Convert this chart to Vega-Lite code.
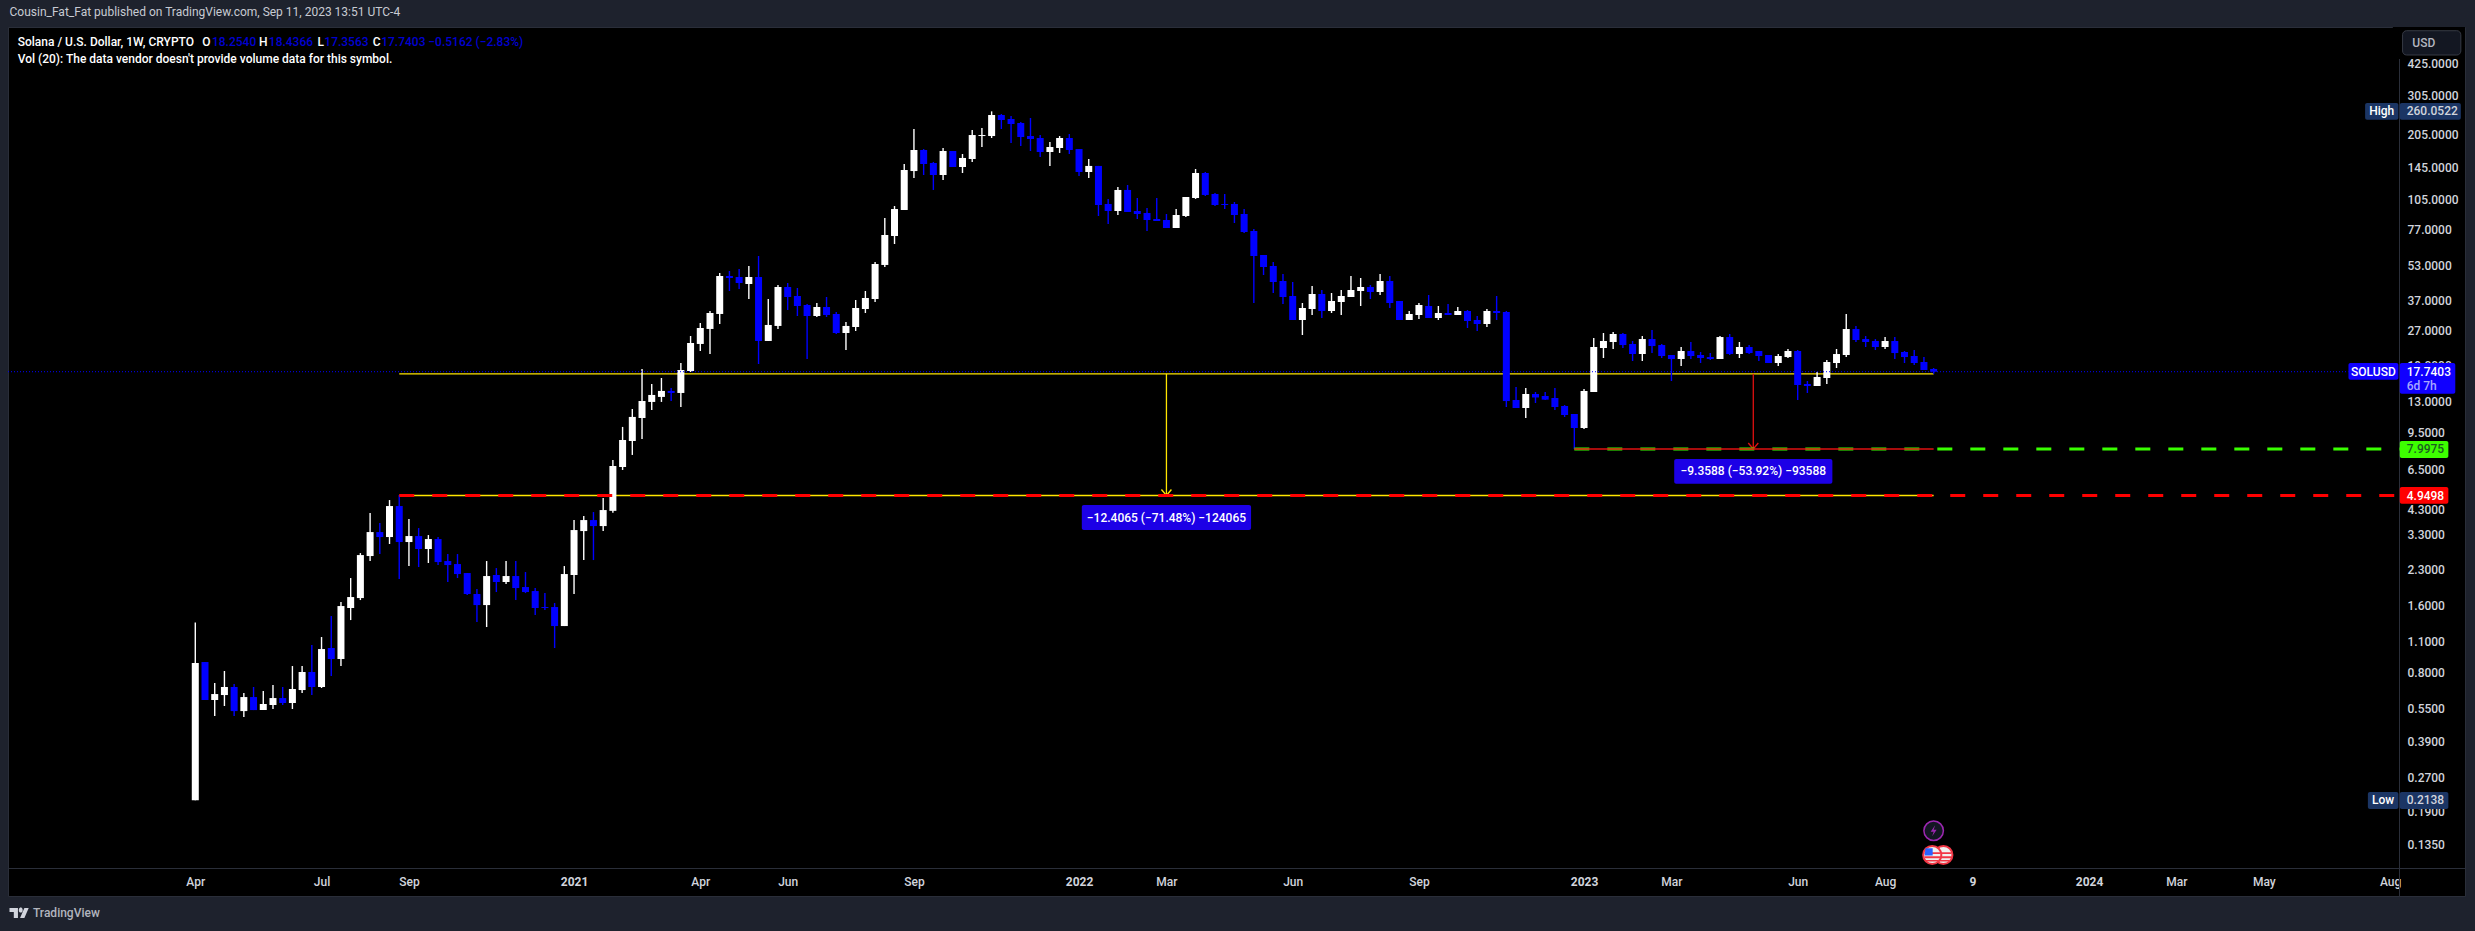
{
  "$schema": "https://vega.github.io/schema/vega-lite/v6.json",
  "description": "SOLUSD weekly candles on a log price scale with measured support levels.",
  "autosize": "none",
  "width": 2457,
  "height": 869,
  "padding": {"left": 8, "top": 27, "right": 10, "bottom": 35},
  "background": "#1e222d",
  "view": {"fill": "#000000", "stroke": "#2a2e39"},
  "title": {
    "text": "Cousin_Fat_Fat published on TradingView.com, Sep 11, 2023 13:51 UTC-4",
    "anchor": "start",
    "frame": "group",
    "dx": 1.5,
    "offset": 8,
    "font": "Roboto",
    "fontSize": 12,
    "fontWeight": "normal",
    "color": "#c8cbd3"
  },
  "config": {"text": {"font": "Roboto", "fontSize": 12}},
  "datasets": {
    "candles": [
      {"date":"2020-04-06","open":0.2138,"high":1.337,"low":0.2138,"close":0.8796},
      {"date":"2020-04-13","open":0.8887,"high":0.8887,"low":0.6007,"close":0.6007},
      {"date":"2020-04-20","open":0.6007,"high":0.7158,"low":0.509,"close":0.6388},
      {"date":"2020-04-27","open":0.6323,"high":0.81,"low":0.5646,"close":0.6869},
      {"date":"2020-05-04","open":0.6869,"high":0.7085,"low":0.509,"close":0.5359},
      {"date":"2020-05-11","open":0.5359,"high":0.6454,"low":0.5038,"close":0.6193},
      {"date":"2020-05-18","open":0.6193,"high":0.6869,"low":0.5415,"close":0.5415},
      {"date":"2020-05-25","open":0.5415,"high":0.6589,"low":0.5415,"close":0.5764},
      {"date":"2020-06-01","open":0.5705,"high":0.7012,"low":0.5474,"close":0.613},
      {"date":"2020-06-08","open":0.613,"high":0.6869,"low":0.5705,"close":0.5824},
      {"date":"2020-06-15","open":0.5824,"high":0.8528,"low":0.5474,"close":0.6728},
      {"date":"2020-06-22","open":0.6657,"high":0.8528,"low":0.6454,"close":0.8017},
      {"date":"2020-06-29","open":0.8017,"high":1.059,"low":0.6323,"close":0.6869},
      {"date":"2020-07-06","open":0.6869,"high":1.15,"low":0.6798,"close":1.016},
      {"date":"2020-07-13","open":1.027,"high":1.428,"low":0.7693,"close":0.9168},
      {"date":"2020-07-20","open":0.9168,"high":1.65,"low":0.8528,"close":1.583},
      {"date":"2020-07-27","open":1.551,"high":2.113,"low":1.37,"close":1.737},
      {"date":"2020-08-03","open":1.719,"high":2.734,"low":1.684,"close":2.678},
      {"date":"2020-08-10","open":2.651,"high":4.13,"low":2.518,"close":3.395},
      {"date":"2020-08-17","open":3.395,"high":3.725,"low":2.706,"close":3.225},
      {"date":"2020-08-24","open":3.225,"high":4.723,"low":3.001,"close":4.44},
      {"date":"2020-08-31","open":4.44,"high":4.972,"low":2.092,"close":3.063},
      {"date":"2020-09-07","open":3.063,"high":3.882,"low":2.391,"close":3.258},
      {"date":"2020-09-14","open":3.258,"high":3.538,"low":2.367,"close":2.85},
      {"date":"2020-09-21","open":2.85,"high":3.292,"low":2.467,"close":3.159},
      {"date":"2020-09-28","open":3.159,"high":3.225,"low":2.416,"close":2.492},
      {"date":"2020-10-05","open":2.518,"high":2.706,"low":2.028,"close":2.416},
      {"date":"2020-10-12","open":2.441,"high":2.706,"low":2.113,"close":2.202},
      {"date":"2020-10-19","open":2.225,"high":2.225,"low":1.773,"close":1.792},
      {"date":"2020-10-26","open":1.792,"high":1.887,"low":1.342,"close":1.599},
      {"date":"2020-11-02","open":1.599,"high":2.518,"low":1.275,"close":2.157},
      {"date":"2020-11-09","open":2.18,"high":2.342,"low":1.829,"close":2.028},
      {"date":"2020-11-16","open":2.028,"high":2.518,"low":1.986,"close":2.157},
      {"date":"2020-11-23","open":2.157,"high":2.518,"low":1.684,"close":1.906},
      {"date":"2020-11-30","open":1.926,"high":2.248,"low":1.81,"close":1.829},
      {"date":"2020-12-07","open":1.848,"high":1.906,"low":1.443,"close":1.551},
      {"date":"2020-12-14","open":1.567,"high":1.81,"low":1.519,"close":1.551},
      {"date":"2020-12-21","open":1.567,"high":1.633,"low":1.027,"close":1.288},
      {"date":"2020-12-28","open":1.288,"high":2.391,"low":1.288,"close":2.202},
      {"date":"2021-01-04","open":2.18,"high":3.842,"low":1.792,"close":3.466},
      {"date":"2021-01-11","open":3.43,"high":4.004,"low":2.544,"close":3.842},
      {"date":"2021-01-18","open":3.842,"high":4.173,"low":2.544,"close":3.611},
      {"date":"2021-01-25","open":3.611,"high":4.82,"low":3.43,"close":4.26},
      {"date":"2021-02-01","open":4.225,"high":7.137,"low":4.139,"close":6.709},
      {"date":"2021-02-08","open":6.64,"high":10.04,"low":6.441,"close":8.775},
      {"date":"2021-02-15","open":8.685,"high":12.08,"low":7.52,"close":11.13},
      {"date":"2021-02-22","open":11.01,"high":18.25,"low":8.868,"close":13.12},
      {"date":"2021-03-01","open":12.99,"high":15.63,"low":11.96,"close":13.96},
      {"date":"2021-03-08","open":13.68,"high":16.63,"low":12.99,"close":14.55},
      {"date":"2021-03-15","open":14.55,"high":15,"low":13.12,"close":14.25},
      {"date":"2021-03-22","open":14.25,"high":19.41,"low":12.34,"close":18.06},
      {"date":"2021-03-29","open":17.87,"high":25.64,"low":17.69,"close":23.86},
      {"date":"2021-04-05","open":23.62,"high":29.33,"low":21.97,"close":27.85},
      {"date":"2021-04-12","open":27.57,"high":33.19,"low":21.3,"close":32.51},
      {"date":"2021-04-19","open":32.18,"high":49.1,"low":29.03,"close":47.6},
      {"date":"2021-04-26","open":47.6,"high":50.12,"low":40.79,"close":46.63},
      {"date":"2021-05-03","open":47.11,"high":51.16,"low":41.64,"close":44.3},
      {"date":"2021-05-10","open":43.84,"high":52.77,"low":37.56,"close":47.11},
      {"date":"2021-05-17","open":47.11,"high":58.52,"low":19.21,"close":24.36},
      {"date":"2021-05-24","open":24.36,"high":37.56,"low":24.36,"close":28.73},
      {"date":"2021-05-31","open":28.44,"high":43.39,"low":27.57,"close":42.51},
      {"date":"2021-06-07","open":42.51,"high":44.3,"low":33.53,"close":38.34},
      {"date":"2021-06-14","open":38.74,"high":42.07,"low":31.52,"close":34.94},
      {"date":"2021-06-21","open":35.3,"high":35.67,"low":20.23,"close":31.52},
      {"date":"2021-06-28","open":31.52,"high":36.04,"low":31.19,"close":34.58},
      {"date":"2021-07-05","open":34.58,"high":38.34,"low":31.19,"close":31.85},
      {"date":"2021-07-12","open":32.18,"high":32.85,"low":26.18,"close":26.45},
      {"date":"2021-07-19","open":26.45,"high":29.63,"low":22.2,"close":28.44},
      {"date":"2021-07-26","open":28.14,"high":37.17,"low":27,"close":34.23},
      {"date":"2021-08-02","open":33.88,"high":40.79,"low":32.51,"close":37.95},
      {"date":"2021-08-09","open":37.56,"high":55,"low":36.41,"close":53.87},
      {"date":"2021-08-16","open":53.34,"high":86.59,"low":52.25,"close":72.67},
      {"date":"2021-08-23","open":71.92,"high":97.95,"low":66.23,"close":94.96},
      {"date":"2021-08-30","open":94.04,"high":151.1,"low":94.04,"close":142},
      {"date":"2021-09-06","open":140.5,"high":216.7,"low":130.8,"close":174.6},
      {"date":"2021-09-13","open":174.6,"high":176.3,"low":134.9,"close":151.1},
      {"date":"2021-09-20","open":152.7,"high":154.3,"low":115.6,"close":134.9},
      {"date":"2021-09-27","open":134.9,"high":178.2,"low":128.1,"close":172.8},
      {"date":"2021-10-04","open":172.8,"high":172.8,"low":146.5,"close":146.5},
      {"date":"2021-10-11","open":146.5,"high":167.5,"low":137.7,"close":160.8},
      {"date":"2021-10-18","open":159.1,"high":214.5,"low":154.3,"close":203.7},
      {"date":"2021-10-25","open":201.6,"high":219,"low":180,"close":203.7},
      {"date":"2021-11-01","open":201.6,"high":260.05,"low":197.5,"close":250.4},
      {"date":"2021-11-08","open":250.4,"high":253,"low":216.7,"close":237.8},
      {"date":"2021-11-15","open":240.3,"high":247.9,"low":187.6,"close":228.2},
      {"date":"2021-11-22","open":230.6,"high":232.9,"low":181.9,"close":199.6},
      {"date":"2021-11-29","open":201.6,"high":242.8,"low":172.8,"close":195.5},
      {"date":"2021-12-06","open":197.5,"high":203.7,"low":162.4,"close":171},
      {"date":"2021-12-13","open":171,"high":189.6,"low":148.1,"close":180},
      {"date":"2021-12-20","open":178.2,"high":201.6,"low":169.3,"close":197.5},
      {"date":"2021-12-27","open":197.5,"high":205.8,"low":167.5,"close":174.6},
      {"date":"2022-01-03","open":176.3,"high":176.3,"low":133.5,"close":139.1},
      {"date":"2022-01-10","open":139.1,"high":159.1,"low":130.8,"close":148.1},
      {"date":"2022-01-17","open":148.1,"high":148.1,"low":88.4,"close":99},
      {"date":"2022-01-24","open":100,"high":105.4,"low":81.38,"close":93.07},
      {"date":"2022-01-31","open":93.07,"high":119.2,"low":89.32,"close":115.6},
      {"date":"2022-02-07","open":115.6,"high":121.7,"low":92.12,"close":92.12},
      {"date":"2022-02-14","open":93.07,"high":106.4,"low":85.7,"close":90.24},
      {"date":"2022-02-21","open":91.18,"high":96,"low":75.73,"close":84.8},
      {"date":"2022-02-28","open":85.7,"high":106.4,"low":83.93,"close":83.93},
      {"date":"2022-03-07","open":84.8,"high":90.24,"low":78.08,"close":78.08},
      {"date":"2022-03-14","open":78.08,"high":94.96,"low":78.08,"close":89.32},
      {"date":"2022-03-21","open":88.4,"high":107.5,"low":87.49,"close":107.5},
      {"date":"2022-03-28","open":106.4,"high":143.5,"low":105.4,"close":137.7},
      {"date":"2022-04-04","open":137.7,"high":139.1,"low":108.7,"close":109.8},
      {"date":"2022-04-11","open":110.9,"high":112.1,"low":97.95,"close":99},
      {"date":"2022-04-18","open":100,"high":110.9,"low":94.96,"close":99},
      {"date":"2022-04-25","open":100,"high":102.1,"low":82.22,"close":89.32},
      {"date":"2022-05-02","open":90.24,"high":94.96,"low":74.18,"close":74.95},
      {"date":"2022-05-09","open":75.7,"high":77.27,"low":36.04,"close":58.5},
      {"date":"2022-05-16","open":59.1,"high":59.1,"low":48.1,"close":52.23},
      {"date":"2022-05-23","open":52.77,"high":55,"low":39.95,"close":44.74},
      {"date":"2022-05-30","open":45.2,"high":48.59,"low":35.67,"close":38.33},
      {"date":"2022-06-06","open":38.73,"high":44.74,"low":30.24,"close":30.24},
      {"date":"2022-06-13","open":30.24,"high":36.04,"low":25.9,"close":34.23},
      {"date":"2022-06-20","open":33.87,"high":42.93,"low":31.84,"close":39.54},
      {"date":"2022-06-27","open":39.54,"high":41.2,"low":30.87,"close":33.18},
      {"date":"2022-07-04","open":33.18,"high":39.95,"low":32.5,"close":36.79},
      {"date":"2022-07-11","open":36.41,"high":41.2,"low":31.84,"close":38.73},
      {"date":"2022-07-18","open":38.33,"high":47.6,"low":38.33,"close":41.2},
      {"date":"2022-07-25","open":40.78,"high":46.63,"low":34.94,"close":42.49},
      {"date":"2022-08-01","open":42.49,"high":43.37,"low":37.55,"close":40.36},
      {"date":"2022-08-08","open":40.36,"high":48.59,"low":39.13,"close":45.2},
      {"date":"2022-08-15","open":45.2,"high":47.6,"low":34.23,"close":36.04},
      {"date":"2022-08-22","open":36.79,"high":36.79,"low":30.24,"close":30.24},
      {"date":"2022-08-29","open":30.24,"high":33.18,"low":30.24,"close":32.17},
      {"date":"2022-09-05","open":31.84,"high":36.04,"low":30.55,"close":35.3},
      {"date":"2022-09-12","open":34.94,"high":39.13,"low":30.87,"close":30.87},
      {"date":"2022-09-19","open":30.87,"high":34.94,"low":30.24,"close":32.5},
      {"date":"2022-09-26","open":32.5,"high":35.67,"low":31.84,"close":31.84},
      {"date":"2022-10-03","open":31.84,"high":34.58,"low":31.84,"close":33.18},
      {"date":"2022-10-10","open":33.18,"high":33.52,"low":27.85,"close":29.93},
      {"date":"2022-10-17","open":30.24,"high":31.51,"low":26.99,"close":29.02},
      {"date":"2022-10-24","open":29.02,"high":33.87,"low":28.13,"close":33.18},
      {"date":"2022-10-31","open":33.18,"high":38.73,"low":30.24,"close":32.5},
      {"date":"2022-11-07","open":32.84,"high":33.18,"low":12.33,"close":13.11},
      {"date":"2022-11-14","open":13.25,"high":15.16,"low":12.2,"close":12.2},
      {"date":"2022-11-21","open":12.2,"high":15,"low":11,"close":14.1},
      {"date":"2022-11-28","open":14.1,"high":14.39,"low":12.85,"close":13.6},
      {"date":"2022-12-05","open":13.81,"high":14.39,"low":13.25,"close":13.3},
      {"date":"2022-12-12","open":13.53,"high":15,"low":11.95,"close":12.33},
      {"date":"2022-12-19","open":12.46,"high":12.58,"low":11.12,"close":11.35},
      {"date":"2022-12-26","open":11.47,"high":11.47,"low":7.995,"close":9.926},
      {"date":"2023-01-02","open":9.926,"high":14.85,"low":9.824,"close":14.54},
      {"date":"2023-01-09","open":14.39,"high":25.11,"low":14.39,"close":22.89},
      {"date":"2023-01-16","open":22.65,"high":26.44,"low":20.43,"close":24.35},
      {"date":"2023-01-23","open":24.1,"high":26.71,"low":22.42,"close":26.17},
      {"date":"2023-01-30","open":26.17,"high":26.44,"low":22.65,"close":23.36},
      {"date":"2023-02-06","open":23.61,"high":24.35,"low":19.81,"close":21.29},
      {"date":"2023-02-13","open":21.29,"high":25.63,"low":19.81,"close":24.85},
      {"date":"2023-02-20","open":24.85,"high":27.27,"low":21.51,"close":23.12},
      {"date":"2023-02-27","open":23.36,"high":23.61,"low":20.43,"close":20.86},
      {"date":"2023-03-06","open":21.08,"high":21.08,"low":16.12,"close":20.22},
      {"date":"2023-03-13","open":20.22,"high":22.89,"low":18.82,"close":21.96},
      {"date":"2023-03-20","open":21.96,"high":24.1,"low":20.22,"close":20.86},
      {"date":"2023-03-27","open":21.08,"high":21.74,"low":19.41,"close":20.43},
      {"date":"2023-04-03","open":20.64,"high":21.51,"low":20.02,"close":20.22},
      {"date":"2023-04-10","open":20.22,"high":25.63,"low":20.22,"close":25.37},
      {"date":"2023-04-17","open":25.37,"high":26.17,"low":21.08,"close":21.29},
      {"date":"2023-04-24","open":21.29,"high":24.1,"low":20.43,"close":22.89},
      {"date":"2023-05-01","open":22.89,"high":23.36,"low":21.29,"close":21.51},
      {"date":"2023-05-08","open":21.96,"high":21.96,"low":19.81,"close":20.86},
      {"date":"2023-05-15","open":21.08,"high":21.08,"low":19.41,"close":19.41},
      {"date":"2023-05-22","open":19.41,"high":21.29,"low":18.82,"close":20.86},
      {"date":"2023-05-29","open":20.64,"high":22.42,"low":20.43,"close":21.96},
      {"date":"2023-06-05","open":21.96,"high":22.19,"low":13.25,"close":15.47},
      {"date":"2023-06-12","open":15.63,"high":16.12,"low":14.24,"close":15.31},
      {"date":"2023-06-19","open":15.31,"high":17.69,"low":15.31,"close":16.8},
      {"date":"2023-06-26","open":16.63,"high":20.02,"low":15.63,"close":19.61},
      {"date":"2023-07-03","open":19.41,"high":22.42,"low":18.43,"close":21.29},
      {"date":"2023-07-10","open":21.08,"high":32.17,"low":20.64,"close":27.55},
      {"date":"2023-07-17","open":27.55,"high":28.42,"low":24.1,"close":24.6},
      {"date":"2023-07-24","open":24.85,"high":25.63,"low":22.89,"close":24.1},
      {"date":"2023-07-31","open":24.35,"high":24.85,"low":22.19,"close":22.89},
      {"date":"2023-08-07","open":22.89,"high":25.37,"low":22.42,"close":24.35},
      {"date":"2023-08-14","open":24.35,"high":25.37,"low":20.22,"close":21.51},
      {"date":"2023-08-21","open":21.74,"high":21.96,"low":19.41,"close":20.64},
      {"date":"2023-08-28","open":20.86,"high":22.19,"low":19.02,"close":19.41},
      {"date":"2023-09-04","open":19.61,"high":20.64,"low":18.06,"close":18.06},
      {"date":"2023-09-11","open":18.254,"high":18.4366,"low":17.3563,"close":17.7403}
    ],
    "boxes": [
      {"name":"measure","start":"2022-01-05","end":"2022-05-07","top":4.488,"bottom":3.466},
      {"name":"measure","start":"2023-03-08","end":"2023-06-30","top":7.211,"bottom":5.591},
      {"name":"stat","start":"2024-07-18","end":"2024-08-11","top":283.4,"bottom":238.5},
      {"name":"stat","start":"2024-08-12","end":"2024-09-25","top":283.4,"bottom":238.5},
      {"name":"symbol","start":"2024-07-06","end":"2024-08-11","top":19.41,"bottom":16.34},
      {"name":"symbol","start":"2024-08-12","end":"2024-09-21","top":19.41,"bottom":14.14},
      {"name":"target","start":"2024-08-12","end":"2024-09-16","top":8.678,"bottom":7.288},
      {"name":"stop","start":"2024-08-12","end":"2024-09-16","top":5.4,"bottom":4.547},
      {"name":"stat","start":"2024-07-20","end":"2024-08-11","top":0.2326,"bottom":0.1952},
      {"name":"stat","start":"2024-08-12","end":"2024-09-16","top":0.2326,"bottom":0.1952}
    ],
    "labels": [
      {"label":"Solana / U.S. Dollar, 1W, CRYPTO","date":"2019-11-30","price":531.6,"tone":"white"},
      {"label":"O","date":"2020-04-11","price":531.6,"tone":"white"},
      {"label":"18.2540","date":"2020-04-18","price":531.6,"tone":"quote"},
      {"label":"H","date":"2020-05-22","price":531.6,"tone":"white"},
      {"label":"18.4366","date":"2020-05-29","price":531.6,"tone":"quote"},
      {"label":"L","date":"2020-07-03","price":531.6,"tone":"white"},
      {"label":"17.3563","date":"2020-07-08","price":531.6,"tone":"quote"},
      {"label":"C","date":"2020-08-12","price":531.6,"tone":"white"},
      {"label":"17.7403","date":"2020-08-18","price":531.6,"tone":"quote"},
      {"label":"−0.5162 (−2.83%)","date":"2020-09-21","price":531.6,"tone":"quote"},
      {"label":"Vol (20): The data vendor doesn't provide volume data for this symbol.","date":"2019-11-30","price":446.1,"tone":"white"},
      {"label":"USD","date":"2024-08-21","price":524.5,"tone":"muted"},
      {"label":"260.0522","date":"2024-08-17","price":260.05,"tone":"axis"},
      {"label":"17.7403","date":"2024-08-17","price":17.7403,"tone":"white"},
      {"label":"6d 7h","date":"2024-08-17","price":15.31,"tone":"lilac"},
      {"label":"7.9975","date":"2024-08-17","price":7.9975,"tone":"dark"},
      {"label":"4.9498","date":"2024-08-17","price":4.9498,"tone":"white"},
      {"label":"0.2138","date":"2024-08-17","price":0.2138,"tone":"axis"},
      {"label":"TradingView","date":"2019-12-11","price":0.06686,"tone":"muted"}
    ],
    "centered": [
      {"label":"−12.4065 (−71.48%) −124065","date":"2022-03-07","price":3.944},
      {"label":"−9.3588 (−53.92%) −93588","date":"2023-05-04","price":6.352},
      {"label":"High","date":"2024-07-30","price":260.05},
      {"label":"SOLUSD","date":"2024-07-24","price":17.7403},
      {"label":"Low","date":"2024-07-31","price":0.2138}
    ]
  },
  "layer": [
    {
      "data": {"values": [
        {"name":"entry","start":"2020-08-31","end":"2023-09-11","price":17.3563},
        {"name":"entry","start":"2020-08-31","end":"2023-09-11","price":4.9498}
      ]},
      "mark": {"type": "rule", "strokeWidth": 1.3},
      "encoding": {
        "x": {"field": "start", "type": "temporal", "title": null,
          "scale": {"type": "utc", "nice": false, "padding": 0, "domain": [{"year": 2019, "month": 11, "date": 23, "utc": true}, {"year": 2024, "month": 9, "date": 28, "utc": true}]},
          "axis": {
            "orient": "bottom", "offset": -28, "grid": false, "ticks": false, "domainColor": "#2a2e39", "labelColor": "#d1d4dc",
            "labelFont": "Roboto", "labelFontSize": 12, "labelPadding": 8, "labelOverlap": false, "labelFlush": false,
            "labelFontWeight": {"expr": "utcmonth(datum.value)==0 || utcmonth(datum.value)==9 ? 'bold' : 500"},
            "labelExpr": "utcmonth(datum.value)==0 ? utcFormat(datum.value,'%Y') : utcmonth(datum.value)==9 ? utcdate(datum.value)+'' : utcFormat(datum.value,'%b')",
            "values": [
              {"year":2020,"month":4,"date":6,"utc":true},{"year":2020,"month":7,"date":6,"utc":true},{"year":2020,"month":9,"date":7,"utc":true},
              {"year":2021,"month":1,"date":4,"utc":true},{"year":2021,"month":4,"date":5,"utc":true},{"year":2021,"month":6,"date":7,"utc":true},{"year":2021,"month":9,"date":6,"utc":true},
              {"year":2022,"month":1,"date":3,"utc":true},{"year":2022,"month":3,"date":7,"utc":true},{"year":2022,"month":6,"date":6,"utc":true},{"year":2022,"month":9,"date":5,"utc":true},
              {"year":2023,"month":1,"date":2,"utc":true},{"year":2023,"month":3,"date":6,"utc":true},{"year":2023,"month":6,"date":5,"utc":true},{"year":2023,"month":8,"date":7,"utc":true},{"year":2023,"month":10,"date":9,"utc":true},
              {"year":2024,"month":1,"date":1,"utc":true},{"year":2024,"month":3,"date":4,"utc":true},{"year":2024,"month":5,"date":6,"utc":true},{"year":2024,"month":8,"date":5,"utc":true}
            ]
          }
        },
        "x2": {"field": "end"},
        "y": {"field": "price", "type": "quantitative", "title": null,
          "scale": {"type": "log", "nice": false, "domain": [0.0796, 620.6]},
          "axis": {
            "orient": "right", "offset": -66, "grid": false, "ticks": false, "domainColor": "#2a2e39", "labelColor": "#d1d4dc",
            "labelFont": "Roboto", "labelFontSize": 12, "labelFontWeight": 500, "labelPadding": 8, "labelOverlap": false, "labelFlush": false, "format": ".4f",
            "values": [425,305,205,145,105,77,53,37,27,19,13,9.5,6.5,4.3,3.3,2.3,1.6,1.1,0.8,0.55,0.39,0.27,0.19,0.135]
          }
        },
        "stroke": {"field": "name", "type": "nominal", "legend": null,
          "scale": {"domain": ["entry","stop","target","measure"], "range": ["#ffe500","#ff0000","#39ff00","#e01010"]}}
      }
    },
    {
      "data": {"values": [
        {"name":"entry","date":"2022-03-07","from":17.3563,"to":4.9498},
        {"name":"measure","date":"2023-05-04","from":17.3563,"to":7.9975}
      ]},
      "mark": {"type": "rule", "strokeWidth": 1.3},
      "encoding": {
        "x": {"field": "date", "type": "temporal", "title": null},
        "y": {"field": "from", "type": "quantitative", "title": null},
        "y2": {"field": "to"},
        "stroke": {"field": "name", "type": "nominal", "legend": null}
      }
    },
    {
      "data": {"values": [
        {"name":"entry","date":"2022-03-07","to":4.9498},
        {"name":"measure","date":"2023-05-04","to":7.9975}
      ]},
      "mark": {"type": "point", "shape": "M-1,-1.2L0,0L1,-1.2", "filled": false, "size": 100, "strokeWidth": 1.4, "opacity": 1},
      "encoding": {
        "x": {"field": "date", "type": "temporal", "title": null},
        "y": {"field": "to", "type": "quantitative", "title": null},
        "stroke": {"field": "name", "type": "nominal", "legend": null}
      }
    },
    {
      "data": {"name": "candles"},
      "mark": {"type": "rule", "strokeWidth": 1.4},
      "encoding": {
        "x": {"field": "date", "type": "temporal", "title": null},
        "y": {"field": "low", "type": "quantitative", "title": null},
        "y2": {"field": "high"},
        "color": {"condition": {"test": "datum.close >= datum.open", "value": "#ffffff"}, "value": "#0000ff"}
      }
    },
    {
      "data": {"name": "candles"},
      "mark": {"type": "bar", "size": 7},
      "encoding": {
        "x": {"field": "date", "type": "temporal", "title": null},
        "y": {"field": "open", "type": "quantitative", "title": null},
        "y2": {"field": "close"},
        "color": {"condition": {"test": "datum.close >= datum.open", "value": "#ffffff"}, "value": "#0000ff"}
      }
    },
    {
      "data": {"values": [
        {"name":"stop","start":"2020-08-31","end":"2024-08-12","price":4.9498},
        {"name":"target","start":"2022-12-26","end":"2024-08-12","price":7.9975}
      ]},
      "mark": {"type": "rule", "strokeWidth": 3, "strokeDash": [15, 18]},
      "encoding": {
        "x": {"field": "start", "type": "temporal", "title": null},
        "x2": {"field": "end"},
        "y": {"field": "price", "type": "quantitative", "title": null},
        "stroke": {"field": "name", "type": "nominal", "legend": null}
      }
    },
    {
      "data": {"values": [
        {"name":"measure","start":"2022-12-26","end":"2023-09-11","price":7.9975}
      ]},
      "mark": {"type": "rule", "strokeWidth": 1.3},
      "encoding": {
        "x": {"field": "start", "type": "temporal", "title": null},
        "x2": {"field": "end"},
        "y": {"field": "price", "type": "quantitative", "title": null},
        "stroke": {"field": "name", "type": "nominal", "legend": null}
      }
    },
    {
      "data": {"values": [{"start":"2019-11-23","end":"2024-07-06","price":17.7403}]},
      "mark": {"type": "rule", "strokeWidth": 1, "strokeDash": [1, 2], "color": "#0000ff"},
      "encoding": {
        "x": {"field": "start", "type": "temporal", "title": null},
        "x2": {"field": "end"},
        "y": {"field": "price", "type": "quantitative", "title": null}
      }
    },
    {
      "data": {"values": [{"start":"2024-08-07","end":"2024-09-28","top":620.6,"bottom":446.1}]},
      "mark": {"type": "rect", "color": "#000000"},
      "encoding": {
        "x": {"field": "start", "type": "temporal", "title": null},
        "x2": {"field": "end"},
        "y": {"field": "top", "type": "quantitative", "title": null},
        "y2": {"field": "bottom"}
      }
    },
    {
      "data": {"values": [{"start":"2024-08-14","end":"2024-09-25","top":597.3,"bottom":464.9}]},
      "mark": {"type": "rect", "fill": "#131722", "stroke": "#363a45", "strokeWidth": 1, "cornerRadius": 4},
      "encoding": {
        "x": {"field": "start", "type": "temporal", "title": null},
        "x2": {"field": "end"},
        "y": {"field": "top", "type": "quantitative", "title": null},
        "y2": {"field": "bottom"}
      }
    },
    {
      "data": {"name": "boxes"},
      "mark": {"type": "rect", "cornerRadius": 2},
      "encoding": {
        "x": {"field": "start", "type": "temporal", "title": null},
        "x2": {"field": "end"},
        "y": {"field": "top", "type": "quantitative", "title": null},
        "y2": {"field": "bottom"},
        "fill": {"field": "name", "type": "nominal", "legend": null,
          "scale": {"domain": ["measure","stat","symbol","target","stop"], "range": ["#1c00e6","#1b3564","#1000ff","#3dff00","#ff0000"]}}
      }
    },
    {
      "data": {"name": "labels"},
      "mark": {"type": "text", "align": "left", "baseline": "middle", "fontWeight": 500},
      "encoding": {
        "x": {"field": "date", "type": "temporal", "title": null},
        "y": {"field": "price", "type": "quantitative", "title": null},
        "text": {"field": "label"},
        "color": {"field": "tone", "type": "nominal", "legend": null,
          "scale": {"domain": ["white","quote","muted","axis","lilac","dark"], "range": ["#ffffff","#0000d0","#b2b5be","#d1d4dc","#a8a8ff","#1b5e20"]}}
      }
    },
    {
      "data": {"name": "centered"},
      "mark": {"type": "text", "align": "center", "baseline": "middle", "fontWeight": 500, "color": "#ffffff"},
      "encoding": {
        "x": {"field": "date", "type": "temporal", "title": null},
        "y": {"field": "price", "type": "quantitative", "title": null},
        "text": {"field": "label"}
      }
    },
    {
      "data": {"values": [{"date":"2019-12-01","price":0.06686}]},
      "mark": {"type": "point", "shape": "M-1,-.52H-.12V.52H-.55V-.1H-1ZM.55,-.52H1L.55,.52H.1ZM-.02,-.3A.2,.2,0,1,0,.36,-.3A.2,.2,0,1,0,-.02,-.3Z", "filled": true, "size": 369, "color": "#d1d4dc", "opacity": 1},
      "encoding": {
        "x": {"field": "date", "type": "temporal", "title": null},
        "y": {"field": "price", "type": "quantitative", "title": null}
      }
    },
    {
      "data": {"values": [{"date":"2023-09-11","price":0.156}]},
      "mark": {"type": "point", "shape": "circle", "filled": true, "fill": "#131722", "stroke": "#9c27b0", "strokeWidth": 1.5, "size": 380, "opacity": 1},
      "encoding": {
        "x": {"field": "date", "type": "temporal", "title": null},
        "y": {"field": "price", "type": "quantitative", "title": null}
      }
    },
    {
      "data": {"values": [{"date":"2023-09-11","price":0.156}]},
      "mark": {"type": "point", "shape": "M.15,-.55L-.3,.1H0L-.15,.55L.3,-.1H0Z", "filled": true, "size": 400, "color": "#9c27b0", "opacity": 1},
      "encoding": {
        "x": {"field": "date", "type": "temporal", "title": null},
        "y": {"field": "price", "type": "quantitative", "title": null}
      }
    },
    {
      "data": {"values": [{"date":"2023-09-18","price":0.1215}]},
      "mark": {"type": "point", "shape": "circle", "filled": true, "fill": "#f0f0f0", "stroke": "#f23645", "strokeWidth": 2, "size": 330, "opacity": 1},
      "encoding": {
        "x": {"field": "date", "type": "temporal", "title": null},
        "y": {"field": "price", "type": "quantitative", "title": null}
      }
    },
    {
      "data": {"values": [{"date":"2023-09-18","price":0.1215}]},
      "mark": {"type": "point", "shape": "M-.85,-.3H.85V-.1H-.85ZM-.85,.15H.85V.35H-.85ZM-.7,.55H.7V.72H-.7Z", "filled": true, "size": 330, "color": "#f23645", "opacity": 1},
      "encoding": {
        "x": {"field": "date", "type": "temporal", "title": null},
        "y": {"field": "price", "type": "quantitative", "title": null}
      }
    },
    {
      "data": {"values": [{"date":"2023-09-10","price":0.1215}]},
      "mark": {"type": "point", "shape": "circle", "filled": true, "fill": "#f0f0f0", "stroke": "#f23645", "strokeWidth": 2, "size": 330, "opacity": 1},
      "encoding": {
        "x": {"field": "date", "type": "temporal", "title": null},
        "y": {"field": "price", "type": "quantitative", "title": null}
      }
    },
    {
      "data": {"values": [{"date":"2023-09-10","price":0.1215}]},
      "mark": {"type": "point", "shape": "M-.85,-.3H.85V-.1H-.85ZM-.85,.15H.85V.35H-.85ZM-.7,.55H.7V.72H-.7Z", "filled": true, "size": 330, "color": "#f23645", "opacity": 1},
      "encoding": {
        "x": {"field": "date", "type": "temporal", "title": null},
        "y": {"field": "price", "type": "quantitative", "title": null}
      }
    },
    {
      "data": {"values": [{"date":"2023-09-10","price":0.1215}]},
      "mark": {"type": "point", "shape": "M-.75,-.75H.05V.05H-.85Z", "filled": true, "size": 330, "color": "#2962ff", "opacity": 1},
      "encoding": {
        "x": {"field": "date", "type": "temporal", "title": null},
        "y": {"field": "price", "type": "quantitative", "title": null}
      }
    }
  ]
}
